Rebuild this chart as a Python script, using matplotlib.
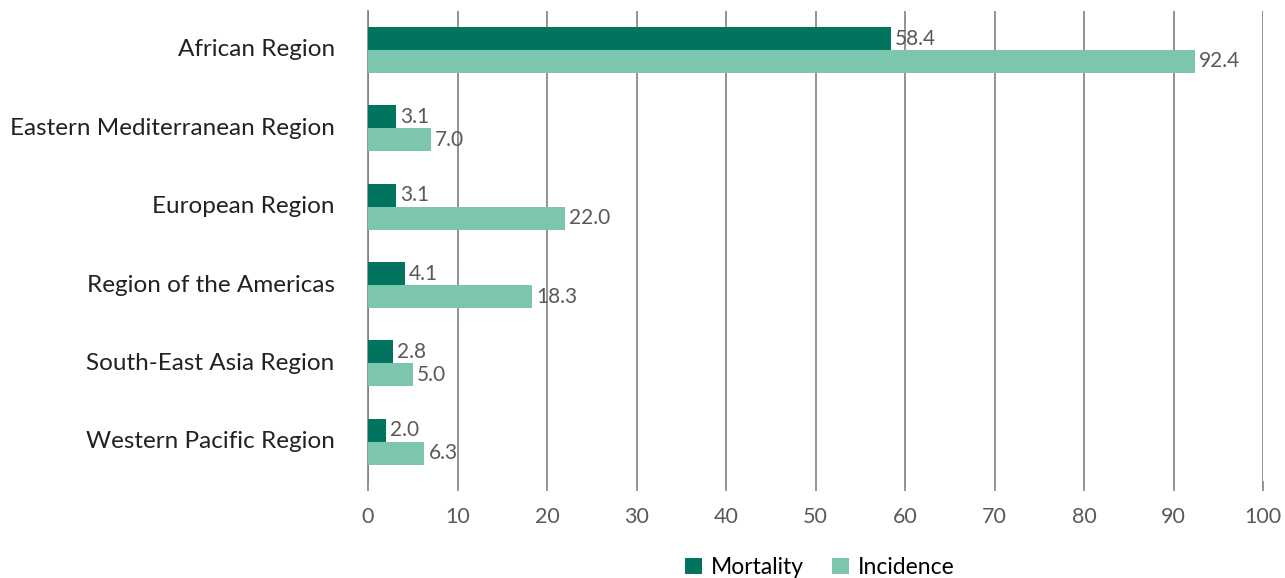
import numpy as np
import matplotlib.pyplot as plt

regions = ["African Region", "Eastern Mediterranean Region", "European Region",
           "Region of the Americas", "South-East Asia Region", "Western Pacific Region"]
mortality = [58.4, 3.1, 3.1, 4.1, 2.8, 2.0]
incidence = [92.4, 7.0, 22.0, 18.3, 5.0, 6.3]

dark = "#00745F"
light = "#7BC6AD"
grey = "#595959"

plt.rcParams["font.family"] = ["Lato", "DejaVu Sans"]

fig = plt.figure(figsize=(12.85, 5.78), dpi=100)
ax = fig.add_axes([0.2864, 0.1678, 0.6965, 0.8135])

y = np.arange(len(regions))
h = 0.293
b1 = ax.barh(y - h / 2, mortality, height=h, color=dark, label="Mortality", zorder=3)
b2 = ax.barh(y + h / 2, incidence, height=h, color=light, label="Incidence", zorder=3)
ax.bar_label(b1, labels=[f"{v:.1f}" for v in mortality], padding=3, color=grey, fontsize=15)
ax.bar_label(b2, labels=[f"{v:.1f}" for v in incidence], padding=3, color=grey, fontsize=15)

ax.set_xlim(0, 100)
ax.set_ylim(len(regions) - 0.5, -0.5)
ax.set_xticks(np.arange(0, 101, 10))
ax.set_yticks(y)
ax.set_yticklabels(regions, fontsize=17.5, color="#222222", va="bottom")
ax.tick_params(axis="y", length=0, pad=24)
for lbl in ax.get_yticklabels():
    lbl.set_verticalalignment("center")
ax.tick_params(axis="x", length=7, width=1.2, color="#808080", labelsize=15.5, labelcolor=grey, pad=12)

ax.grid(axis="x", color="#808080", linewidth=1.2, zorder=0)
for s in ["top", "right", "bottom"]:
    ax.spines[s].set_visible(False)
ax.spines["left"].set_color("#808080")
ax.spines["left"].set_linewidth(1.2)

fig.legend(handles=[b1, b2], loc="center", bbox_to_anchor=(0.638, 0.018), ncol=2,
           frameon=False, fontsize=16.5, handlelength=0.75, handleheight=0.75,
           columnspacing=1.2, handletextpad=0.4)

fig.savefig("out.png", dpi=100)
